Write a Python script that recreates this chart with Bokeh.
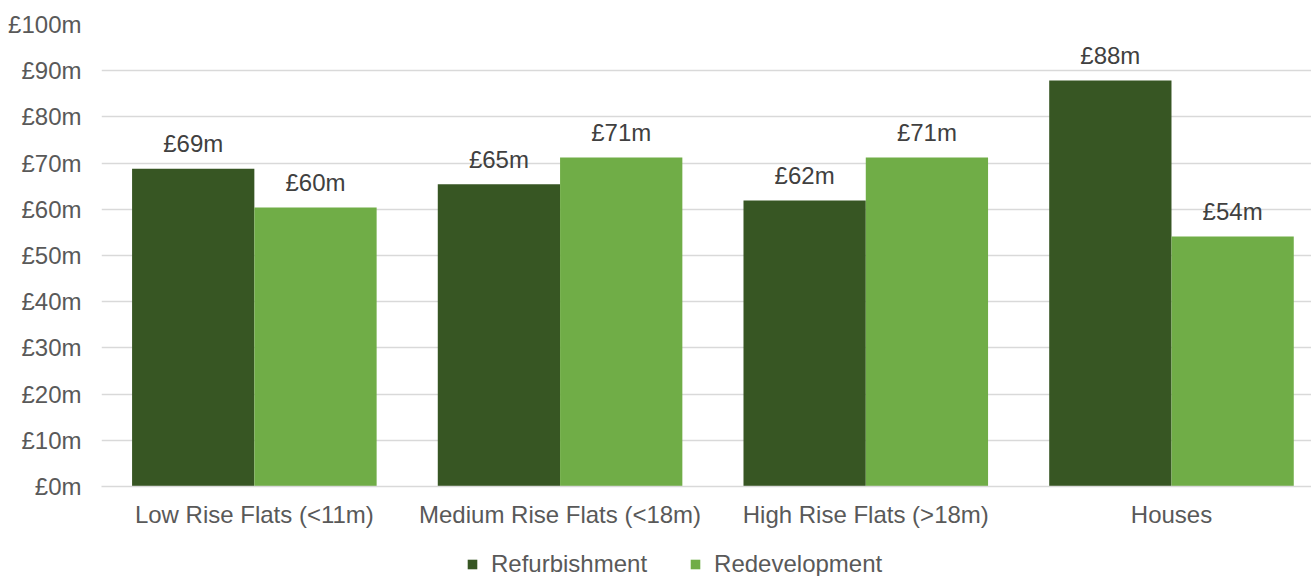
import numpy as np
from bokeh.plotting import figure
from bokeh.layouts import column
from bokeh.models import Range1d, FixedTicker, Legend, LegendItem, ColumnDataSource
from bokeh.core.properties import value
from bokeh.embed import file_html
from bokeh.resources import INLINE

categories = ["Low Rise Flats (<11m)", "Medium Rise Flats (<18m)", "High Rise Flats (>18m)", "Houses"]
refurbishment = [68.8, 65.4, 61.9, 87.9]
redevelopment = [60.4, 71.2, 71.2, 54.1]
series_names = ["Refurbishment", "Redevelopment"]
y_ticks = [0, 10, 20, 30, 40, 50, 60, 70, 80, 90, 100]
y_tick_labels = ["£0m", "£10m", "£20m", "£30m", "£40m", "£50m", "£60m", "£70m", "£80m", "£90m", "£100m"]

DARK = "#375623"
LIGHT = "#70AD47"
FONT = "Liberation Sans"
FS = "24px"

centers = np.arange(len(categories)) + 0.5
bw = 0.4

p = figure(width=1311, height=536, output_backend="svg", toolbar_location=None,
           x_range=Range1d(0, 3.958), y_range=Range1d(0, 100),
           min_border_left=101, min_border_right=0, min_border_top=24, min_border_bottom=50)
p.outline_line_color = None
p.background_fill_color = "white"
p.border_fill_color = "white"

src_ref = ColumnDataSource(dict(x=centers - bw / 2, top=refurbishment,
                                label=[f"£{round(v)}m" for v in refurbishment]))
src_red = ColumnDataSource(dict(x=centers + bw / 2, top=redevelopment,
                                label=[f"£{round(v)}m" for v in redevelopment]))

r1 = p.vbar(x="x", top="top", width=bw, source=src_ref, fill_color=DARK, line_color=None)
r2 = p.vbar(x="x", top="top", width=bw, source=src_red, fill_color=LIGHT, line_color=None)

for src in (src_ref, src_red):
    p.text(x="x", y="top", text="label", source=src, text_align="center", text_baseline="middle",
           y_offset=-25, text_font=value(FONT), text_font_size=FS, text_color="#404040")

# grid
p.xgrid.visible = False
p.ygrid.ticker = FixedTicker(ticks=y_ticks)
p.ygrid.grid_line_color = "#D9D9D9"
p.ygrid.grid_line_width = 1.5

# y axis
p.yaxis.ticker = FixedTicker(ticks=y_ticks)
p.yaxis.major_label_overrides = {t: l for t, l in zip(y_ticks, y_tick_labels)}
p.yaxis.axis_line_color = None
p.yaxis.major_tick_line_color = None
p.yaxis.minor_tick_line_color = None
p.yaxis.major_tick_out = 0
p.yaxis.major_label_standoff = 20
p.yaxis.major_label_text_font = FONT
p.yaxis.major_label_text_font_size = FS
p.yaxis.major_label_text_color = "#595959"

# x axis
p.xaxis.ticker = FixedTicker(ticks=list(centers))
p.xaxis.major_label_overrides = {float(c): n for c, n in zip(centers, categories)}
p.xaxis.axis_line_color = "#D9D9D9"
p.xaxis.axis_line_width = 1.5
p.xaxis.major_tick_line_color = None
p.xaxis.minor_tick_line_color = None
p.xaxis.major_tick_out = 0
p.xaxis.major_label_standoff = 14
p.xaxis.major_label_text_font = FONT
p.xaxis.major_label_text_font_size = FS
p.xaxis.major_label_text_color = "#595959"

# legend strip (hidden proxy renderers supply the legend swatches)
pl = figure(width=1311, height=40, output_backend="svg", toolbar_location=None,
            x_range=Range1d(0, 3.958), y_range=Range1d(-1000, -999),
            x_axis_location=None, y_axis_location=None,
            min_border=0, min_border_left=0, min_border_right=0, min_border_top=0, min_border_bottom=0)
pl.outline_line_color = None
pl.xgrid.visible = False
pl.ygrid.visible = False
l1 = pl.vbar(x="x", top="top", width=bw, source=src_ref, fill_color=DARK, line_color=None, visible=False)
l2 = pl.vbar(x="x", top="top", width=bw, source=src_red, fill_color=LIGHT, line_color=None, visible=False)

legend = Legend(items=[LegendItem(label=series_names[0], renderers=[l1]),
                       LegendItem(label=series_names[1], renderers=[l2])],
                orientation="horizontal", location=(365, -2),
                glyph_width=12, glyph_height=12, label_standoff=13, spacing=42,
                padding=0, margin=0, border_line_color=None, background_fill_alpha=0,
                inactive_fill_alpha=0,
                label_text_font=FONT, label_text_font_size=FS, label_text_color="#595959")
pl.add_layout(legend)

layout = column(p, pl, spacing=0)
open("out.html", "w").write(file_html(layout, INLINE))
